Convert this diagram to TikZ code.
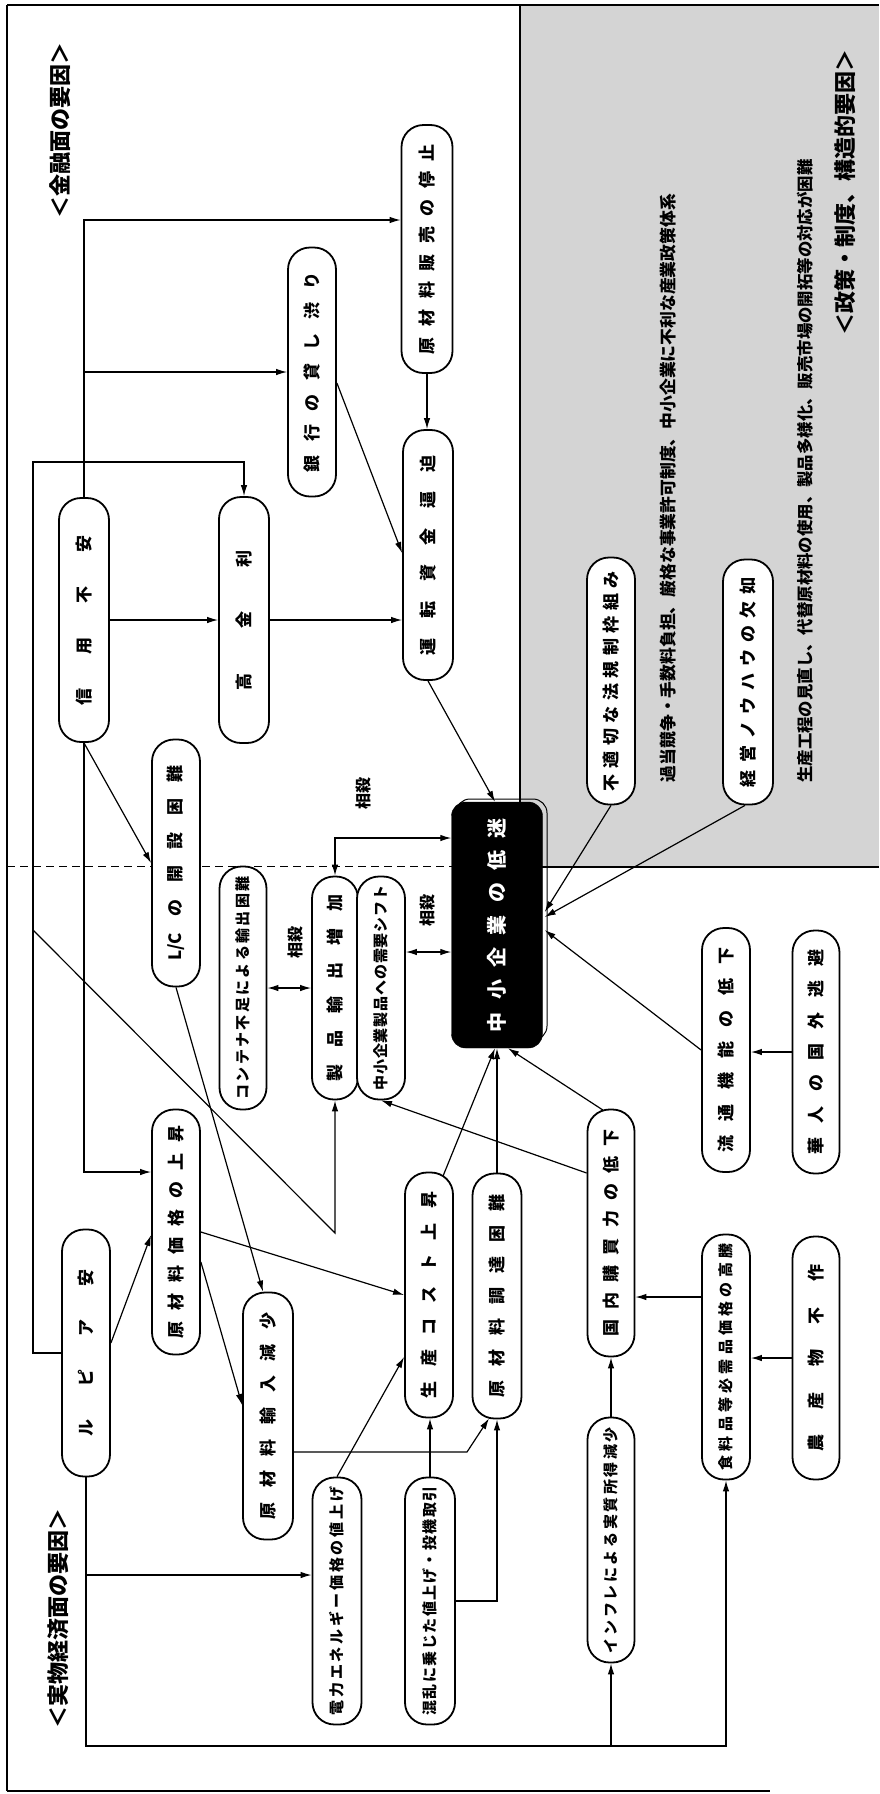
\documentclass[tikz,border=0pt]{standalone}
\usepackage{fontspec}
\setmainfont{Noto Sans CJK JP}
\usepackage{graphicx}
\usetikzlibrary{calc,arrows.meta}
\newcommand\vtxt[2]{\rotatebox{90}{\makebox[#1pt][s]{\spaceskip=0pt plus 1fil\xspaceskip=0pt plus 1fil\relax #2}}}
\begin{document}
\begin{tikzpicture}[x=1pt,y=-1pt,
  pill/.style={draw, line width=1.8pt, fill=white, rectangle, rounded corners=22pt, inner sep=0pt,
    font=\bfseries\fontsize{17}{17}\selectfont},
  spill/.style={pill, font=\bfseries\fontsize{15}{15}\selectfont},
  conn/.style={line width=1.2pt, -{Latex[length=11pt,width=6.5pt]}},
  dconn/.style={line width=1.2pt, {Latex[length=11pt,width=6.5pt]}-{Latex[length=11pt,width=6.5pt]}},
  lbl/.style={rotate=90, font=\bfseries\fontsize{22}{22}\selectfont, inner sep=0pt},
  sosai/.style={rotate=90, font=\bfseries\fontsize{16}{16}\selectfont, inner sep=0pt},
  gtxt/.style={rotate=90, inner sep=0pt}]
\useasboundingbox (0,0) rectangle (879,1794);

% grey policy region
\fill[black!17] (520,5) rectangle (879,867);
\draw[line width=1.2pt] (520,5) -- (520,867) -- (879,867);

% frame
\draw[line width=2pt] (7,5) -- (7,1791);
\draw[line width=1.2pt] (7,5) -- (879,5);
\draw[line width=1.2pt] (7,1791) -- (770,1791);

% dashed separator
\draw[line width=1pt, dash pattern=on 8pt off 5pt] (7,866) -- (520,866);

% section labels
\node[lbl] (labreal) at (58,1618) {＜実物経済面の要因＞};
\node[lbl] (labfin) at (60,130) {＜金融面の要因＞};
\node[lbl] (labpol) at (845,192) {＜政策・制度、構造的要因＞};

% grey texts
\node[gtxt, font=\bfseries\fontsize{16.8}{16.8}\selectfont] (g1) at (668,488) {過当競争・手数料負担、厳格な事業許可制度、中小企業に不利な産業政策体系};
\node[gtxt, font=\bfseries\fontsize{16.4}{16.4}\selectfont] (g2) at (805,471) {生産工程の見直し、代替原材料の使用、製品多様化、販売市場の開拓等の対応が困難};

% offset outline of main box
\draw[line width=1pt, rounded corners=14pt] (456,799) rectangle (547,1040);

% nodes
\node[pill, minimum width=50pt, minimum height=244pt] (shin) at (84,620) {\vtxt{170}{信 用 不 安}};
\node[pill, minimum width=50pt, minimum height=246pt] (kokin) at (244,620) {\vtxt{140}{高 金 利}};
\node[pill, minimum width=48pt, minimum height=249pt] (ginko) at (312,372) {\vtxt{200}{銀 行 の 貸 し 渋 り}};
\node[pill, minimum width=51pt, minimum height=248pt] (hanbai) at (427,249) {\vtxt{210}{原 材 料 販 売 の 停 止}};
\node[pill, minimum width=50pt, minimum height=250pt] (unten) at (428,555) {\vtxt{200}{運 転 資 金 逼 迫}};
\node[pill, minimum width=48pt, minimum height=247pt] (lc) at (176,863) {\vtxt{195}{L/C の 開 設 困 難}};
\node[spill, minimum width=47pt, minimum height=243pt] (cont) at (243,988) {\vtxt{223}{コ ン テ ナ 不 足 に よ る 輸 出 困 難}};
\node[pill, minimum width=46pt, minimum height=223pt] (yushutsu) at (335,988) {\vtxt{187}{製 品 輸 出 増 加}};
\node[spill, minimum width=48pt, minimum height=223pt] (shift) at (381,988) {\vtxt{205}{中 小 企 業 製 品 へ の 需 要 シ フ ト}};
\node[draw=black, fill=black, rectangle, rounded corners=14pt, inner sep=0pt, minimum width=91pt, minimum height=246pt,
  text=white, font=\bfseries\fontsize{20}{20}\selectfont] (main) at (497,925) {\vtxt{214}{中 小 企 業 の 低 迷}};
\node[pill, minimum width=48pt, minimum height=247pt] (futeki) at (611,681) {\vtxt{220}{不 適 切 な 法 規 制 枠 組 み}};
\node[pill, minimum width=50pt, minimum height=245pt] (keiei) at (748,682) {\vtxt{210}{経 営 ノ ウ ハ ウ の 欠 如}};
\node[pill, minimum width=48pt, minimum height=244pt] (ryutsu) at (726,1050) {\vtxt{205}{流 通 機 能 の 低 下}};
\node[pill, minimum width=47pt, minimum height=243pt] (kajin) at (816,1052) {\vtxt{205}{華 人 の 国 外 逃 避}};
\node[pill, minimum width=48pt, minimum height=247pt] (rupia) at (86,1353) {\vtxt{167}{ル ピ ア 安}};
\node[pill, minimum width=48pt, minimum height=245pt] (genka) at (176,1232) {\vtxt{213}{原 材 料 価 格 の 上 昇}};
\node[pill, minimum width=50pt, minimum height=247pt] (yunyu) at (268,1416) {\vtxt{207}{原 材 料 輸 入 減 少}};
\node[pill, minimum width=48pt, minimum height=245pt] (cost) at (429,1295) {\vtxt{207}{生 産 コ ス ト 上 昇}};
\node[pill, minimum width=49pt, minimum height=245pt] (chotatsu) at (497,1296) {\vtxt{203}{原 材 料 調 達 困 難}};
\node[pill, minimum width=47pt, minimum height=247pt] (kobai) at (611,1233) {\vtxt{207}{国 内 購 買 力 の 低 下}};
\node[spill, minimum width=48pt, minimum height=245pt] (shoku) at (726,1357) {\vtxt{227}{食 料 品 等 必 需 品 価 格 の 高 騰}};
\node[pill, minimum width=47pt, minimum height=243pt] (nosan) at (816,1358) {\vtxt{187}{農 産 物 不 作}};
\node[spill, minimum width=47pt, minimum height=245pt] (infure) at (611,1540) {\vtxt{226}{イ ン フ レ に よ る 実 質 所 得 減 少}};
\node[spill, minimum width=49pt, minimum height=247pt] (denryoku) at (337,1601) {\vtxt{229}{電 力 エ ネ ル ギ ー 価 格 の 値 上 げ}};
\node[spill, minimum width=50pt, minimum height=247pt] (konran) at (430,1601) {\vtxt{229}{混 乱 に 乗 じ た 値 上 げ ・ 投 機 取 引}};

% offset labels
\node[sosai] (s1) at (363,793) {相殺};
\node[sosai] (s2) at (295,942) {相殺};
\node[sosai] (s3) at (427,910) {相殺};

% connectors: financial side
\draw[conn] (shin.north) |- ($(hanbai.west)+(0,-29)$);
\draw[conn] (shin.north |- ginko.west) -- (ginko.west);
\draw[conn] (shin.east) -- (kokin.west);
\draw[conn] (kokin.east) -- (kokin.east -| unten.west);
\draw[conn] (hanbai.south) -- (hanbai.south |- unten.north);
\draw[conn] ($(ginko.east)+(0,11)$) -- ($(unten.west)+(0,-2)$);
\draw[conn] (unten.south) -- ($(main.north)+(-2,0)$);
\draw[conn] (shin.south) |- ($(genka.west)+(0,-60)$);
\draw[conn] (shin.south) -- (lc.west);

\coordinate (L1) at (33,462);
\draw[conn] (rupia.west) -| (L1) -| (kokin.north);
\coordinate (D1) at (33,930);
\coordinate (D2) at (335,1233);
\draw[conn] (D1) -- (D2) -- (yushutsu.south);

% offsetting effects
\draw[dconn] (yushutsu.north) |- ($(main.west)+(0,-87)$);
\draw[dconn] (cont.east) -- (yushutsu.west);
\coordinate (S1) at ($(shift.east)+(0,-36)$);
\draw[dconn] (S1) -- (S1 -| main.west);

% real economy side
\draw[conn] (lc.south) -- ($(yunyu.north)+(-5,0)$);
\draw[conn] ($(rupia.east)+(0,-10)$) -- ($(genka.west)+(0,3)$);
\draw[conn] (genka.east) -- (cost.west);
\draw[conn] ($(genka.east)+(0,30)$) -- ($(yunyu.west)+(0,-11)$);
\coordinate (Y1) at ($(yunyu.east)+(0,36)$);
\coordinate (Y2) at (467,1452);
\draw[conn] (Y1) -- (Y2) -- ($(chotatsu.south)+(-8,-1)$);
\draw[conn] (konran.north) -- (konran.north |- cost.south);
\draw[conn] (denryoku.north) -- ($(cost.west)+(0,62)$);
\draw[conn] (konran.east) -| (chotatsu.south);

\coordinate (B2) at (726,1746);
\draw[conn] (rupia.south) |- (B2) -- (shoku.south);
\draw[conn] ($(rupia.south |- denryoku.west)+(0,-26)$) -- ($(denryoku.west)+(0,-26)$);
\draw[conn] (infure.south |- B2) -- (infure.south);

\draw[conn] ($(cost.north)+(14,4.5)$) -- ($(main.south)+(-2,0)$);
\draw[conn] (chotatsu.north) -- (chotatsu.north |- main.south);
\draw[conn] ($(kobai.north)+(-8,1.5)$) -- ($(main.south)+(11,0)$);
\draw[conn] ($(kobai.west)+(0,-60)$) -- (shift.south);
\coordinate (F1) at ($(shoku.west)+(0,-60)$);
\draw[conn] (F1) -- (F1 -| kobai.east);
\draw[conn] (nosan.west) -- (nosan.west -| shoku.east);
\draw[conn] (infure.north) -- (infure.north |- kobai.south);
\draw[conn] (kajin.west) -- (kajin.west -| ryutsu.east);
\draw[conn] (ryutsu.west) -- ($(main.east)+(2,5)$);

% policy side
\draw[conn] (futeki.south) -- ($(main.east)+(2,-13)$);
\draw[conn] ($(keiei.south)+(-3,0)$) -- ($(main.east)+(2,-8)$);
\end{tikzpicture}
\end{document}
